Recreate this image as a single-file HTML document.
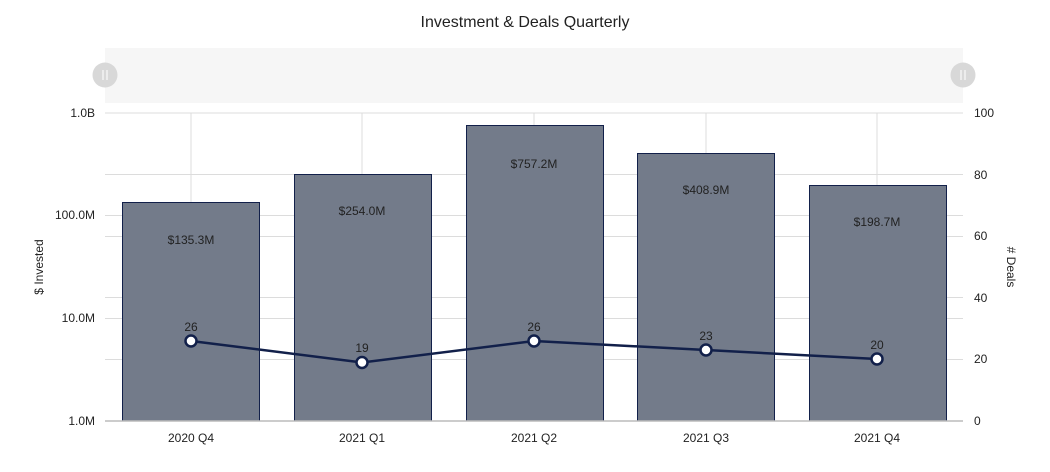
<!DOCTYPE html>
<html><head><meta charset="utf-8"><style>
body{margin:0;background:#fff;}
svg{display:block;font-family:"Liberation Sans",sans-serif;}
</style></head><body>
<svg width="1050" height="472" xmlns="http://www.w3.org/2000/svg">
<rect width="1050" height="472" fill="#fff"/>
<text x="525" y="27" text-anchor="middle" font-size="16" fill="#222">Investment &amp; Deals Quarterly</text>
<rect x="105" y="48" width="858" height="55" fill="#f6f6f6"/>
<circle cx="105" cy="75" r="12.5" fill="#d8d8d8"/>
<circle cx="963" cy="75" r="12.5" fill="#d8d8d8"/>
<g stroke="#fff" stroke-width="1"><line x1="103" y1="70" x2="103" y2="80"/><line x1="107" y1="70" x2="107" y2="80"/><line x1="961" y1="70" x2="961" y2="80"/><line x1="965" y1="70" x2="965" y2="80"/></g>
<g stroke="#dcdcdc" stroke-width="1">
<line x1="105" y1="113" x2="963" y2="113"/>
<line x1="105" y1="174.5" x2="963" y2="174.5"/>
<line x1="105" y1="215.5" x2="963" y2="215.5"/>
<line x1="105" y1="236.5" x2="963" y2="236.5"/>
<line x1="105" y1="297.5" x2="963" y2="297.5"/>
<line x1="105" y1="318.5" x2="963" y2="318.5"/>
<line x1="105" y1="359.5" x2="963" y2="359.5"/>
<line x1="191" y1="113" x2="191" y2="421"/>
<line x1="362" y1="113" x2="362" y2="421"/>
<line x1="534" y1="113" x2="534" y2="421"/>
<line x1="706" y1="113" x2="706" y2="421"/>
<line x1="877" y1="113" x2="877" y2="421"/>
</g>
<g fill="#737b8a" stroke="#12204a" stroke-width="1">
<rect x="122.5" y="202.5" width="137" height="218.5"/>
<rect x="294.5" y="174.5" width="137" height="246.5"/>
<rect x="466.5" y="125.5" width="137" height="295.5"/>
<rect x="637.5" y="153.5" width="137" height="267.5"/>
<rect x="809.5" y="185.5" width="137" height="235.5"/>
</g>
<line x1="105" y1="421" x2="963" y2="421" stroke="#bbb" stroke-width="1.5"/>
<g font-size="12" fill="#222" text-anchor="middle">
<text x="191" y="244">$135.3M</text>
<text x="362" y="215">$254.0M</text>
<text x="534" y="168">$757.2M</text>
<text x="706" y="194">$408.9M</text>
<text x="877" y="226">$198.7M</text>
</g>
<polyline points="191,341 362,362.5 534,341 706,350 877,359" fill="none" stroke="#12204a" stroke-width="2.5"/>
<g fill="#fff" stroke="#12204a" stroke-width="2.5">
<circle cx="191" cy="341" r="5.5"/><circle cx="362" cy="362.5" r="5.5"/><circle cx="534" cy="341" r="5.5"/><circle cx="706" cy="350" r="5.5"/><circle cx="877" cy="359" r="5.5"/>
</g>
<g font-size="12" fill="#222" text-anchor="middle">
<text x="191" y="331">26</text><text x="362" y="352">19</text><text x="534" y="331">26</text><text x="706" y="340">23</text><text x="877" y="349">20</text>
</g>
<g font-size="12" fill="#222" text-anchor="end">
<text x="95" y="117">1.0B</text><text x="95" y="219">100.0M</text><text x="95" y="322">10.0M</text><text x="95" y="425">1.0M</text>
</g>
<g font-size="12" fill="#222" text-anchor="start">
<text x="974" y="117">100</text><text x="974" y="179">80</text><text x="974" y="240">60</text><text x="974" y="302">40</text><text x="974" y="363">20</text><text x="974" y="425">0</text>
</g>
<g font-size="12" fill="#222" text-anchor="middle">
<text x="191" y="442">2020 Q4</text><text x="362" y="442">2021 Q1</text><text x="534" y="442">2021 Q2</text><text x="706" y="442">2021 Q3</text><text x="877" y="442">2021 Q4</text>
</g>
<text transform="translate(43,267) rotate(-90)" font-size="12" fill="#222" text-anchor="middle">$ Invested</text>
<text transform="translate(1007,267) rotate(90)" font-size="12" fill="#222" text-anchor="middle"># Deals</text>
</svg>
</body></html>
